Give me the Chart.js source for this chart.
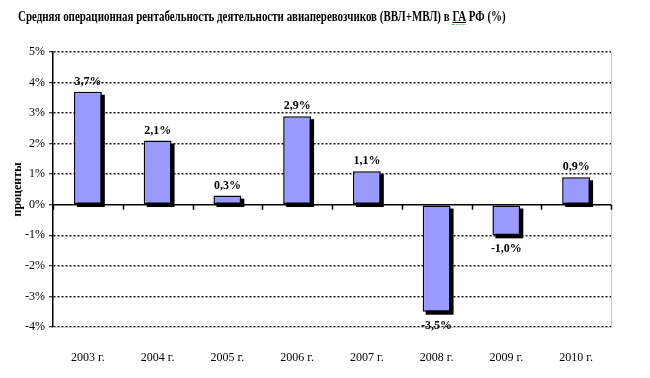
<!DOCTYPE html>
<html>
<head>
<meta charset="utf-8">
<script src="https://cdn.jsdelivr.net/npm/chart.js@4"></script>
<style>
  html, body { margin: 0; padding: 0; background: #fff; }
  #wrap { position: relative; width: 650px; height: 378px; }
  #title {
    position: absolute; left: 18px; top: 8px;
    font: bold 14.5px "Liberation Serif", "Times New Roman", serif;
    color: #000; white-space: nowrap;
    transform: scaleX(0.755); transform-origin: 0 0;
  }
  #title .ga { text-decoration: underline; text-decoration-color: #000; border-bottom: 1px dotted #4a4; }
</style>
</head>
<body>
<div id="wrap">
  <canvas id="chart" width="650" height="378"></canvas>
  <div id="title">Средняя операционная рентабельность деятельности авиаперевозчиков (ВВЛ+МВЛ) в <span class="ga">ГА</span> РФ (%)</div>
</div>
<script>
// Data
const years = ['2003 г.', '2004 г.', '2005 г.', '2006 г.', '2007 г.', '2008 г.', '2009 г.', '2010 г.'];
const profitability = [3.7, 2.1, 0.3, 2.9, 1.1, -3.5, -1.0, 0.9];
const valueLabels = ['3,7%', '2,1%', '0,3%', '2,9%', '1,1%', '-3,5%', '-1,0%', '0,9%'];
const yMin = -4;
const yMax = 5;

const serif = '"Liberation Serif", "Times New Roman", serif';

// Shadow under bars, drawn before the bars themselves
const barShadow = {
    id: 'barShadow',
    beforeDatasetsDraw(chart) {
        const ctx = chart.ctx;
        const meta = chart.getDatasetMeta(0);
        ctx.save();
        ctx.fillStyle = '#000';
        meta.data.forEach(bar => {
            const { x, y, base, width } = bar.getProps(['x', 'y', 'base', 'width'], true);
            const top = Math.min(y, base);
            const h = Math.abs(base - y);
            ctx.fillRect(x - width / 2 + 3, top + 3, width, h);
        });
        ctx.restore();
    }
};

// Zero line, category ticks, light frame on right/bottom, value labels
const extras = {
    id: 'extras',
    afterDatasetsDraw(chart) {
        const ctx = chart.ctx;
        const area = chart.chartArea;
        const xs = chart.scales.x;
        const ys = chart.scales.y;
        const zero = ys.getPixelForValue(0);

        ctx.save();
        // light frame
        ctx.strokeStyle = '#c8c8c8';
        ctx.lineWidth = 1;
        ctx.beginPath();
        ctx.moveTo(area.right + 0.5, area.top);
        ctx.lineTo(area.right + 0.5, area.bottom + 0.5);
        ctx.lineTo(area.left, area.bottom + 0.5);
        ctx.stroke();

        // zero line + ticks at category boundaries
        ctx.strokeStyle = '#000';
        ctx.lineWidth = 1.5;
        ctx.beginPath();
        ctx.moveTo(area.left, zero);
        ctx.lineTo(area.right, zero);
        const step = xs.getPixelForValue(1) - xs.getPixelForValue(0);
        for (let i = 0; i <= years.length; i++) {
            const px = Math.round(xs.getPixelForValue(0) - step / 2 + i * step) + 0.5;
            ctx.moveTo(px, zero);
            ctx.lineTo(px, zero + 5);
        }
        ctx.stroke();

        // value labels
        const meta = chart.getDatasetMeta(0);
        ctx.fillStyle = '#000';
        ctx.font = 'bold 12px ' + serif;
        ctx.textAlign = 'center';
        meta.data.forEach((bar, i) => {
            const { x, y } = bar.getProps(['x', 'y'], true);
            if (profitability[i] >= 0) {
                ctx.textBaseline = 'bottom';
                ctx.fillText(valueLabels[i], x, y - 4);
            } else {
                ctx.textBaseline = 'top';
                ctx.fillText(valueLabels[i], x, y + 8);
            }
        });
        ctx.restore();
    }
};

const chart = new Chart(document.getElementById('chart'), {
    type: 'bar',
    data: {
        labels: years,
        datasets: [{
            data: profitability,
            backgroundColor: '#9999ff',
            borderColor: '#000',
            borderWidth: 1.5,
            borderSkipped: false,
            categoryPercentage: 1,
            barPercentage: 0.4
        }]
    },
    options: {
        responsive: false,
        animation: false,
        events: [],
        layout: { padding: { top: 52, right: 39, left: 0, bottom: 0 } },
        plugins: {
            legend: { display: false },
            tooltip: { enabled: false }
        },
        scales: {
            x: {
                grid: { display: false },
                border: { display: false },
                ticks: {
                    color: '#000',
                    font: { family: serif, size: 12 },
                    padding: 16,
                    maxRotation: 0
                },
                afterFit: s => { s.height = 51; }
            },
            y: {
                min: yMin,
                max: yMax,
                grid: {
                    color: c => c.tick && c.tick.value === 0 ? 'rgba(0,0,0,0)' : '#111',
                    lineWidth: 1.5,
                    tickColor: '#000',
                    tickWidth: 1,
                    tickLength: 4
                },
                border: { display: true, color: '#000', width: 1.5, dash: [2, 2] },
                ticks: {
                    stepSize: 1,
                    color: '#000',
                    padding: 4,
                    font: { family: serif, size: 12 },
                    callback: v => v + '%'
                },
                title: {
                    display: true,
                    text: 'проценты',
                    color: '#000',
                    font: { family: serif, size: 12, weight: 'bold' },
                    padding: { top: 11, bottom: 0 }
                },
                afterFit: s => { s.width = 53; }
            }
        }
    },
    plugins: [barShadow, extras]
});
</script>
</body>
</html>
